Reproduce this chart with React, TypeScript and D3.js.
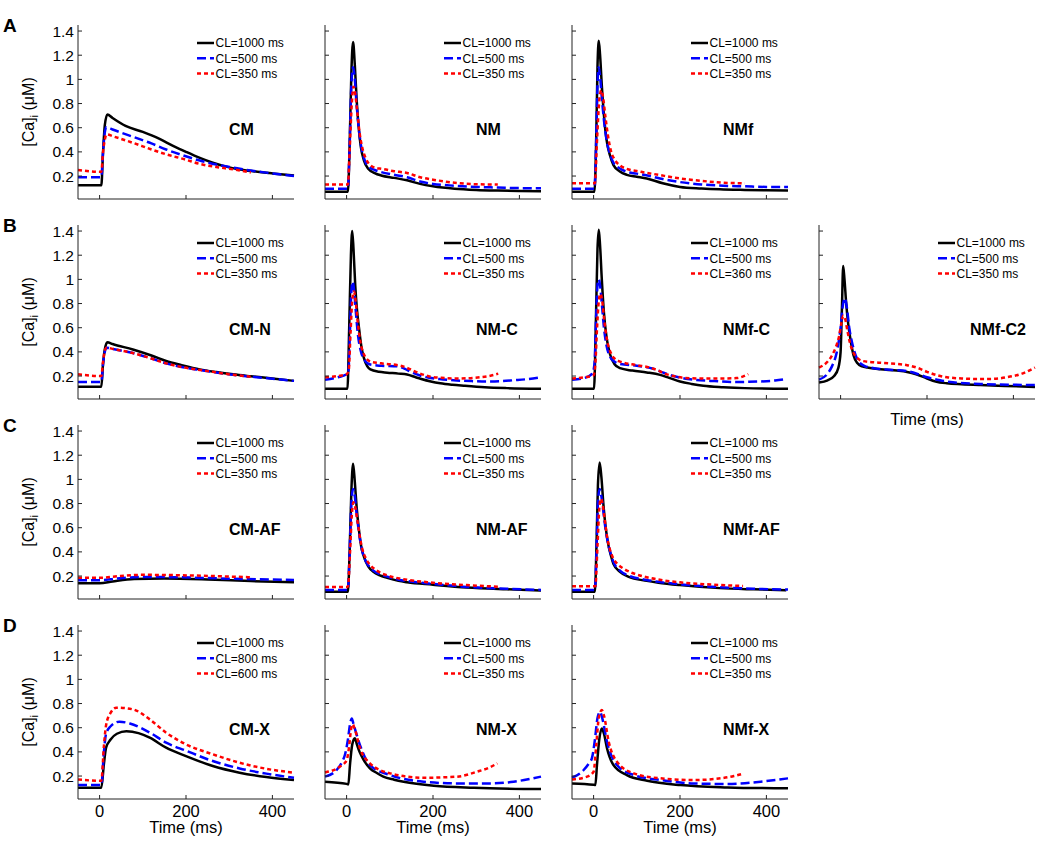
import React from "react";
import * as d3 from "d3";

type P = [number, number][];

// ---- Row A ----
const CM_1000: P = [[-50,0.123],[4,0.123],[8,0.4],[12,0.62],[18,0.71],[30,0.68],[60,0.615],[100,0.565],[140,0.505],[170,0.45],[200,0.4],[232,0.35],[262,0.31],[293,0.278],[325,0.255],[355,0.24],[400,0.222],[450,0.205]];
const CM_500: P = [[-50,0.19],[4,0.19],[8,0.4],[12,0.56],[16,0.605],[30,0.585],[77,0.525],[120,0.47],[154,0.42],[190,0.375],[232,0.328],[270,0.295],[309,0.27],[350,0.245],[400,0.222],[450,0.2]];
const CM_350: P = [[-50,0.25],[4,0.235],[8,0.4],[12,0.5],[16,0.545],[30,0.53],[77,0.475],[120,0.42],[154,0.38],[200,0.335],[232,0.3],[270,0.275],[309,0.255],[350,0.23]];

const NM_1000: P = [[-50,0.07],[3,0.07],[7,0.45],[11,1.05],[15,1.31],[19,1.12],[23,0.85],[28,0.6],[33,0.44],[40,0.33],[50,0.26],[65,0.225],[80,0.205],[110,0.185],[140,0.165],[170,0.135],[200,0.115],[250,0.095],[300,0.085],[350,0.08],[400,0.077],[450,0.075]];
const NM_500: P = [[-50,0.095],[3,0.095],[7,0.45],[11,0.95],[15,1.1],[19,1.0],[23,0.8],[28,0.6],[33,0.46],[40,0.35],[50,0.28],[65,0.25],[80,0.233],[110,0.21],[140,0.19],[170,0.155],[200,0.135],[250,0.12],[300,0.11],[350,0.105],[400,0.1],[450,0.1]];
const NM_350: P = [[-50,0.13],[3,0.13],[7,0.4],[12,0.8],[16,0.94],[20,0.88],[25,0.72],[30,0.56],[36,0.44],[45,0.34],[55,0.29],[70,0.265],[80,0.26],[110,0.24],[140,0.225],[170,0.19],[200,0.17],[263,0.14],[300,0.132],[350,0.13]];

const NMf_1000: P = [[-50,0.07],[2,0.07],[6,0.5],[9,1.1],[12,1.32],[15,1.2],[19,0.95],[24,0.7],[30,0.5],[38,0.37],[46,0.29],[60,0.24],[77,0.21],[100,0.195],[123,0.18],[160,0.14],[200,0.11],[250,0.097],[292,0.09],[350,0.085],[400,0.082],[450,0.08]];
const NMf_500: P = [[-50,0.095],[2,0.095],[6,0.5],[9,0.95],[12,1.1],[15,1.02],[19,0.85],[24,0.66],[30,0.5],[38,0.38],[46,0.31],[60,0.265],[77,0.235],[100,0.22],[130,0.2],[160,0.175],[200,0.15],[250,0.13],[300,0.12],[350,0.115],[400,0.11],[450,0.11]];
const NMf_350: P = [[-50,0.14],[3,0.14],[8,0.5],[13,0.82],[18,0.91],[22,0.85],[27,0.7],[33,0.54],[40,0.41],[50,0.33],[62,0.285],[77,0.26],[110,0.235],[150,0.21],[200,0.18],[250,0.16],[300,0.145],[350,0.14]];

// ---- Row B ----
const CMN_1000: P = [[-50,0.112],[4,0.112],[8,0.3],[12,0.42],[18,0.48],[30,0.465],[77,0.42],[120,0.37],[154,0.324],[190,0.29],[232,0.255],[270,0.233],[309,0.214],[350,0.198],[400,0.18],[450,0.16]];
const CMN_500: P = [[-50,0.15],[4,0.15],[8,0.3],[12,0.4],[16,0.435],[30,0.425],[77,0.39],[120,0.345],[154,0.305],[190,0.275],[232,0.25],[270,0.23],[309,0.21],[350,0.195],[400,0.178],[450,0.16]];
const CMN_350: P = [[-50,0.214],[4,0.2],[8,0.32],[12,0.41],[16,0.435],[30,0.425],[77,0.39],[120,0.345],[154,0.305],[190,0.275],[232,0.25],[270,0.23],[309,0.21],[350,0.195]];

const NMC_1000: P = [[-50,0.095],[2,0.095],[6,0.6],[10,1.2],[13,1.4],[16,1.25],[20,0.95],[24,0.75],[28,0.62],[34,0.45],[40,0.35],[48,0.28],[55,0.255],[75,0.235],[94,0.228],[120,0.22],[140,0.212],[160,0.19],[171,0.178],[195,0.155],[217,0.14],[245,0.128],[271,0.12],[320,0.107],[371,0.1],[450,0.095]];
const NMC_500: P = [[-50,0.17],[-20,0.19],[0,0.215],[4,0.23],[8,0.6],[11,0.9],[14,0.98],[17,0.92],[21,0.75],[26,0.55],[32,0.42],[40,0.34],[55,0.295],[80,0.285],[117,0.28],[135,0.26],[148,0.235],[170,0.205],[186,0.19],[215,0.175],[248,0.165],[290,0.158],[325,0.155],[360,0.158],[386,0.165],[420,0.175],[450,0.19]];
const NMC_350: P = [[-50,0.19],[-20,0.2],[0,0.215],[5,0.25],[9,0.55],[13,0.82],[17,0.9],[21,0.82],[26,0.64],[32,0.48],[40,0.38],[55,0.32],[80,0.305],[125,0.285],[145,0.26],[160,0.235],[194,0.195],[220,0.185],[248,0.18],[280,0.182],[309,0.19],[330,0.2],[351,0.22]];

const NMfC_1000: P = [[-50,0.095],[1,0.095],[5,0.6],[9,1.25],[12,1.41],[15,1.28],[19,1.0],[24,0.72],[30,0.52],[38,0.38],[48,0.3],[61,0.265],[90,0.245],[123,0.23],[154,0.21],[175,0.185],[200,0.155],[227,0.135],[254,0.12],[300,0.108],[350,0.1],[450,0.095]];
const NMfC_500: P = [[-50,0.17],[-20,0.185],[-3,0.22],[2,0.3],[6,0.7],[9,0.95],[12,1.0],[15,0.95],[19,0.8],[24,0.6],[30,0.45],[38,0.36],[48,0.32],[61,0.3],[100,0.285],[138,0.26],[160,0.23],[185,0.2],[210,0.18],[231,0.17],[280,0.158],[331,0.15],[360,0.152],[385,0.155],[420,0.163],[446,0.175]];
const NMfC_360: P = [[-50,0.18],[-20,0.19],[0,0.205],[4,0.3],[8,0.6],[12,0.82],[16,0.88],[20,0.82],[25,0.65],[31,0.5],[40,0.39],[50,0.34],[61,0.32],[100,0.29],[130,0.27],[150,0.245],[165,0.22],[185,0.2],[210,0.185],[250,0.18],[300,0.18],[331,0.183],[345,0.195],[358,0.215]];

const NMfC2_1000: P = [[-50,0.147],[-30,0.165],[-15,0.2],[-5,0.27],[0,0.4],[3,0.75],[6,1.11],[9,1.0],[13,0.8],[18,0.62],[23,0.5],[30,0.37],[38,0.31],[50,0.28],[62,0.27],[92,0.256],[130,0.245],[154,0.234],[175,0.215],[200,0.18],[220,0.155],[246,0.14],[280,0.132],[323,0.125],[380,0.118],[450,0.11]];
const NMfC2_500: P = [[-50,0.17],[-30,0.22],[-20,0.28],[-10,0.38],[-5,0.47],[0,0.6],[5,0.78],[10,0.845],[14,0.78],[20,0.6],[27,0.47],[35,0.37],[42,0.32],[55,0.285],[77,0.265],[120,0.25],[154,0.24],[180,0.215],[200,0.19],[230,0.165],[260,0.148],[323,0.135],[400,0.128],[450,0.125]];
const NMfC2_350: P = [[-50,0.27],[-30,0.32],[-20,0.37],[-10,0.45],[-4,0.52],[2,0.64],[6,0.7],[10,0.68],[16,0.57],[22,0.47],[30,0.39],[40,0.345],[50,0.325],[92,0.31],[154,0.29],[180,0.265],[200,0.235],[225,0.205],[246,0.19],[280,0.18],[323,0.175],[360,0.178],[385,0.19],[420,0.22],[450,0.27]];

// ---- Row C ----
const CMAF_1000: P = [[-50,0.14],[0,0.14],[30,0.155],[80,0.175],[150,0.18],[250,0.172],[350,0.158],[450,0.148]];
const CMAF_500: P = [[-50,0.165],[0,0.165],[40,0.18],[100,0.192],[180,0.19],[300,0.178],[450,0.168]];
const CMAF_350: P = [[-50,0.185],[0,0.185],[40,0.198],[100,0.21],[180,0.207],[280,0.198],[350,0.19]];

const NMAF_1000: P = [[-50,0.07],[3,0.07],[7,0.4],[11,0.9],[15,1.13],[19,0.98],[23,0.78],[28,0.6],[34,0.44],[40,0.36],[50,0.28],[62,0.235],[77,0.205],[94,0.185],[120,0.16],[140,0.148],[200,0.128],[278,0.105],[371,0.09],[450,0.08]];
const NMAF_500: P = [[-50,0.085],[3,0.085],[7,0.4],[11,0.8],[15,0.92],[19,0.86],[23,0.72],[28,0.58],[34,0.44],[40,0.36],[50,0.29],[62,0.245],[77,0.215],[94,0.195],[120,0.17],[140,0.158],[200,0.135],[278,0.11],[371,0.095],[450,0.085]];
const NMAF_350: P = [[-50,0.11],[3,0.11],[8,0.4],[12,0.7],[16,0.81],[20,0.77],[25,0.66],[30,0.54],[36,0.43],[44,0.35],[55,0.29],[70,0.245],[94,0.205],[130,0.175],[200,0.145],[278,0.125],[351,0.112]];

const NMfAF_1000: P = [[-50,0.07],[3,0.07],[7,0.5],[10,0.95],[14,1.14],[18,1.02],[23,0.78],[28,0.6],[34,0.46],[40,0.37],[46,0.3],[61,0.235],[80,0.195],[123,0.16],[150,0.145],[200,0.125],[292,0.1],[370,0.09],[446,0.083]];
const NMfAF_500: P = [[-50,0.085],[3,0.085],[7,0.45],[10,0.8],[14,0.92],[18,0.86],[23,0.72],[28,0.58],[34,0.46],[40,0.38],[46,0.315],[61,0.245],[80,0.205],[123,0.168],[150,0.152],[200,0.132],[292,0.107],[370,0.095],[450,0.088]];
const NMfAF_350: P = [[-50,0.115],[4,0.115],[9,0.45],[13,0.75],[17,0.84],[21,0.79],[26,0.66],[31,0.53],[37,0.43],[45,0.35],[55,0.3],[70,0.26],[90,0.225],[123,0.19],[160,0.165],[200,0.148],[280,0.128],[346,0.118]];

// ---- Row D ----
const CMX_1000: P = [[-50,0.103],[4,0.103],[10,0.3],[15,0.435],[25,0.5],[40,0.55],[62,0.57],[90,0.555],[116,0.517],[154,0.435],[200,0.365],[262,0.283],[324,0.228],[386,0.192],[450,0.167]];
const CMX_800: P = [[-50,0.125],[4,0.125],[10,0.4],[15,0.55],[25,0.61],[46,0.65],[70,0.635],[116,0.56],[154,0.476],[200,0.41],[262,0.324],[324,0.263],[386,0.22],[450,0.186]];
const CMX_600: P = [[-50,0.172],[4,0.16],[10,0.45],[15,0.62],[25,0.72],[39,0.766],[77,0.752],[116,0.669],[154,0.559],[200,0.462],[262,0.38],[324,0.31],[386,0.26],[450,0.228]];

const NMX_1000: P = [[-50,0.153],[0,0.135],[4,0.131],[8,0.3],[13,0.46],[19,0.512],[24,0.46],[30,0.4],[40,0.33],[54,0.264],[70,0.225],[85,0.195],[110,0.17],[132,0.153],[202,0.12],[295,0.103],[450,0.092]];
const NMX_500: P = [[-50,0.195],[-23,0.25],[-10,0.32],[-4,0.374],[3,0.5],[8,0.63],[12,0.677],[16,0.63],[31,0.456],[54,0.29],[101,0.208],[178,0.153],[256,0.139],[333,0.139],[380,0.15],[411,0.167],[450,0.195]];
const NMX_350: P = [[-50,0.23],[-16,0.277],[0,0.33],[6,0.45],[10,0.58],[14,0.628],[18,0.6],[31,0.43],[54,0.305],[101,0.222],[178,0.186],[256,0.195],[302,0.236],[330,0.27],[349,0.305]];

const NMfX_1000: P = [[-50,0.139],[0,0.128],[4,0.125],[8,0.3],[13,0.5],[19,0.594],[24,0.55],[31,0.43],[46,0.291],[77,0.208],[124,0.161],[201,0.125],[310,0.106],[450,0.098]];
const NMfX_500: P = [[-50,0.186],[-23,0.25],[-10,0.31],[-4,0.346],[3,0.5],[9,0.68],[15,0.732],[20,0.68],[31,0.484],[54,0.291],[93,0.208],[155,0.167],[232,0.139],[310,0.134],[387,0.153],[450,0.181]];
const NMfX_350: P = [[-50,0.172],[-15,0.195],[0,0.236],[6,0.45],[12,0.68],[19,0.746],[24,0.7],[35,0.484],[54,0.319],[93,0.222],[155,0.181],[232,0.167],[294,0.181],[325,0.2],[348,0.222]];

const X_TICKS = [0, 200, 400];
const Y_TICKS = [0.2, 0.4, 0.6, 0.8, 1, 1.2, 1.4];
const ROW_LETTERS = ["A", "B", "C", "D"];
const LEGEND_STD = ["CL=1000 ms", "CL=500 ms", "CL=350 ms"];
const LEGEND_C360 = ["CL=1000 ms", "CL=500 ms", "CL=360 ms"];
const LEGEND_X = ["CL=1000 ms", "CL=800 ms", "CL=600 ms"];

const PANELS = [
  { row: 0, col: 0, name: "CM", legend: LEGEND_STD, series: [CM_1000, CM_500, CM_350] },
  { row: 0, col: 1, name: "NM", legend: LEGEND_STD, series: [NM_1000, NM_500, NM_350] },
  { row: 0, col: 2, name: "NMf", legend: LEGEND_STD, series: [NMf_1000, NMf_500, NMf_350] },
  { row: 1, col: 0, name: "CM-N", legend: LEGEND_STD, series: [CMN_1000, CMN_500, CMN_350] },
  { row: 1, col: 1, name: "NM-C", legend: LEGEND_STD, series: [NMC_1000, NMC_500, NMC_350] },
  { row: 1, col: 2, name: "NMf-C", legend: LEGEND_C360, series: [NMfC_1000, NMfC_500, NMfC_360] },
  { row: 1, col: 3, name: "NMf-C2", legend: LEGEND_STD, series: [NMfC2_1000, NMfC2_500, NMfC2_350] },
  { row: 2, col: 0, name: "CM-AF", legend: LEGEND_STD, series: [CMAF_1000, CMAF_500, CMAF_350] },
  { row: 2, col: 1, name: "NM-AF", legend: LEGEND_STD, series: [NMAF_1000, NMAF_500, NMAF_350] },
  { row: 2, col: 2, name: "NMf-AF", legend: LEGEND_STD, series: [NMfAF_1000, NMfAF_500, NMfAF_350] },
  { row: 3, col: 0, name: "CM-X", legend: LEGEND_X, series: [CMX_1000, CMX_800, CMX_600] },
  { row: 3, col: 1, name: "NM-X", legend: LEGEND_STD, series: [NMX_1000, NMX_500, NMX_350] },
  { row: 3, col: 2, name: "NMf-X", legend: LEGEND_STD, series: [NMfX_1000, NMfX_500, NMfX_350] },
];

const STYLES = [
  { color: "#000000", dash: undefined as string | undefined },
  { color: "#0000ff", dash: "9,4" },
  { color: "#ff0000", dash: "4,3" },
];

const FONT = "'Liberation Sans', Arial, Helvetica, sans-serif";
const COL_X = [78, 325, 572, 819];
const ROW_Y = [25, 225, 425, 625];
const W = 216;
const H = 174;

const x = d3.scaleLinear().domain([-50, 450]).range([0, W]);
const y = d3.scaleLinear().domain([0.01, 1.45]).range([H, 0]);
const line = d3
  .line<[number, number]>()
  .x((d) => x(d[0]))
  .y((d) => y(d[1]))
  .curve(d3.curveMonotoneX);

function Panel({ p }: { p: (typeof PANELS)[number] }) {
  const showY = p.col === 0;
  const showX = p.row === 3;
  const showTime = p.row === 3 || p.col === 3;
  return (
    <g transform={`translate(${COL_X[p.col]},${ROW_Y[p.row]})`}>
      {p.series.map((s, i) => (
        <path
          key={i}
          d={line(s) || ""}
          fill="none"
          stroke={STYLES[i].color}
          strokeWidth={2.5}
          strokeDasharray={STYLES[i].dash}
        />
      ))}
      <line x1={0} x2={0} y1={0} y2={H} stroke="#222" strokeWidth={1} />
      <line x1={0} x2={W} y1={H} y2={H} stroke="#222" strokeWidth={1} />
      {Y_TICKS.map((t) => (
        <g key={t}>
          <line x1={0} x2={4} y1={y(t)} y2={y(t)} stroke="#222" />
          {showY && (
            <text x={-4} y={y(t)} dy="0.36em" textAnchor="end" fontSize={15.5} fontFamily={FONT}>
              {String(t)}
            </text>
          )}
        </g>
      ))}
      {X_TICKS.map((t) => (
        <g key={t}>
          <line x1={x(t)} x2={x(t)} y1={H} y2={H - 4} stroke="#222" />
          {showX && (
            <text x={x(t)} y={H + 18} textAnchor="middle" fontSize={16.5} fontFamily={FONT}>
              {t}
            </text>
          )}
        </g>
      ))}
      {showTime && (
        <text x={W / 2} y={H + (showX ? 34 : 26)} textAnchor="middle" fontSize={16.5} fontFamily={FONT}>
          Time (ms)
        </text>
      )}
      {showY && (
        <text
          transform={`translate(-44,${H / 2}) rotate(-90)`}
          textAnchor="middle"
          fontSize={16}
          fontFamily={FONT}
        >
          [Ca]<tspan fontSize={11} dy={4}>i</tspan>
          <tspan dy={-4}> (μM)</tspan>
        </text>
      )}
      {p.legend.map((lab, i) => (
        <g key={lab} transform={`translate(0,${18 + i * 15.3})`}>
          <line
            x1={119}
            x2={136}
            y1={0}
            y2={0}
            stroke={STYLES[i].color}
            strokeWidth={2.5}
            strokeDasharray={STYLES[i].dash}
          />
          <text x={137.5} y={0} dy="0.36em" fontSize={12} fontFamily={FONT}>
            {lab}
          </text>
        </g>
      ))}
      <text x={151} y={110} fontSize={16} fontWeight="bold" fontFamily={FONT}>
        {p.name}
      </text>
    </g>
  );
}

export default function App() {
  return (
    <svg
      width={1050}
      height={848}
      style={{ position: "absolute", left: 0, top: 0, background: "#fff" }}
    >
      <rect width={1050} height={848} fill="#fff" />
      {ROW_LETTERS.map((l, i) => (
        <text key={l} x={3} y={ROW_Y[i] + 7} fontSize={19} fontWeight="bold" fontFamily={FONT}>
          {l}
        </text>
      ))}
      {PANELS.map((p) => (
        <Panel key={p.name} p={p} />
      ))}
    </svg>
  );
}
